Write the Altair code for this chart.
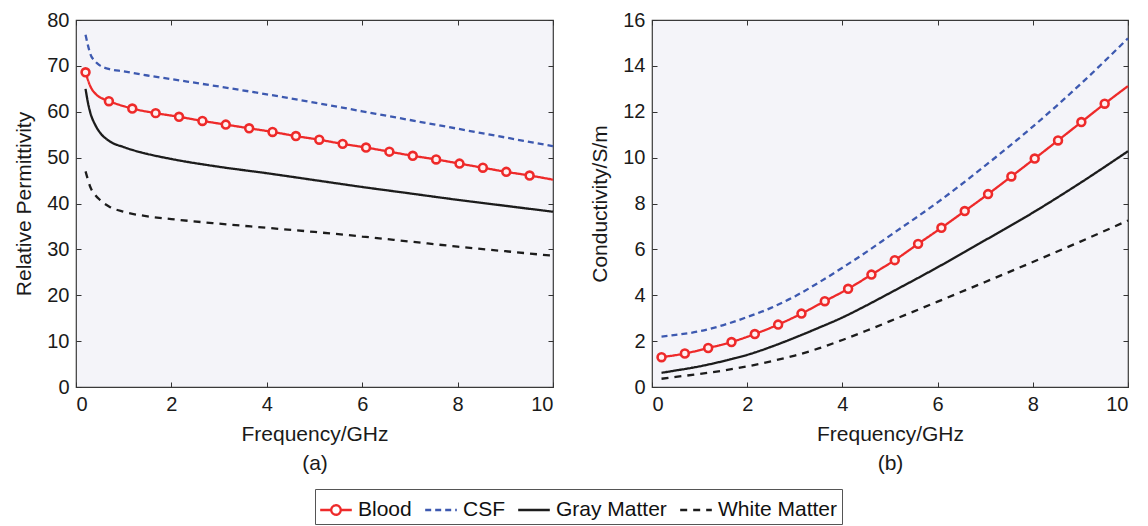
import altair as alt
import pandas as pd

FONT = "Liberation Sans"
TISSUES = ["Blood", "CSF", "Gray Matter", "White Matter"]
COLORS = ["#ee2a2a", "#3d59b0", "#1c1c1c", "#1c1c1c"]
DASHES = [[1, 0], [6, 4], [1, 0], [7, 6]]

# ---- (a) relative permittivity ----
f_perm = [0.2, 0.25, 0.3, 0.4, 0.5, 0.7, 1, 1.5, 2, 3, 4, 5, 6, 7, 8, 9, 10]
csf_perm = [76.8, 74.5, 72.6, 71.0, 70.1, 69.3, 68.8, 67.9, 67.1, 65.5, 63.8, 62.0, 60.1, 58.2, 56.3, 54.4, 52.5]
gray_perm = [65.0, 62.0, 59.8, 57.2, 55.5, 53.6, 52.3, 50.8, 49.7, 48.0, 46.6, 45.1, 43.6, 42.2, 40.8, 39.5, 38.2]
white_perm = [47.0, 45.2, 43.6, 41.9, 40.8, 39.3, 38.2, 37.2, 36.6, 35.6, 34.7, 33.8, 32.8, 31.7, 30.6, 29.6, 28.6]

f_blood = [0.2, 0.69, 1.18, 1.67, 2.16, 2.65, 3.14, 3.63, 4.12, 4.61, 5.10, 5.59, 6.08, 6.57,
           7.06, 7.55, 8.04, 8.53, 9.02, 9.51, 10.0]
blood_perm = [68.6, 62.3, 60.7, 59.7, 58.9, 58.0, 57.2, 56.4, 55.6, 54.7, 53.9, 53.0, 52.2, 51.3,
              50.4, 49.6, 48.7, 47.8, 46.9, 46.1, 45.2]
f_blood_extra = [0.29, 0.43, 0.57]
blood_perm_extra = [65.8, 63.7, 62.8]

# ---- (b) conductivity ----
f_cond = [0.2, 0.5, 1, 1.5, 2, 2.5, 3, 3.5, 4, 4.5, 5, 6, 7, 8, 9, 10]
csf_cond = [2.2, 2.27, 2.43, 2.7, 3.05, 3.45, 3.95, 4.55, 5.2, 5.88, 6.6, 8.05, 9.65, 11.35, 13.2, 15.2]
gray_cond = [0.62, 0.72, 0.9, 1.13, 1.4, 1.75, 2.15, 2.58, 3.03, 3.55, 4.1, 5.22, 6.4, 7.6, 8.9, 10.28]
white_cond = [0.36, 0.44, 0.57, 0.72, 0.9, 1.12, 1.37, 1.68, 2.05, 2.45, 2.87, 3.72, 4.58, 5.45, 6.34, 7.26]
blood_cond = [1.30, 1.46, 1.70, 1.96, 2.31, 2.72, 3.20, 3.74, 4.28, 4.90, 5.53, 6.24, 6.94, 7.67,
              8.41, 9.18, 9.96, 10.75, 11.55, 12.35, 13.12]

N_MARKERS = 20  # markers drawn on the first 20 blood samples


def long_df(pairs):
    rows = []
    for tissue, fs, vs in pairs:
        for f, v in zip(fs, vs):
            rows.append({"freq": f, "value": v, "tissue": tissue})
    df = pd.DataFrame(rows)
    return df.sort_values(["tissue", "freq"]).reset_index(drop=True)


perm_df = long_df([
    ("Blood", f_blood + f_blood_extra, blood_perm + blood_perm_extra),
    ("CSF", f_perm, csf_perm),
    ("Gray Matter", f_perm, gray_perm),
    ("White Matter", f_perm, white_perm),
])
perm_mk = pd.DataFrame({"freq": f_blood[:N_MARKERS], "value": blood_perm[:N_MARKERS]})

cond_df = long_df([
    ("Blood", f_blood, blood_cond),
    ("CSF", f_cond, csf_cond),
    ("Gray Matter", f_cond, gray_cond),
    ("White Matter", f_cond, white_cond),
])
cond_mk = pd.DataFrame({"freq": f_blood[:N_MARKERS], "value": blood_cond[:N_MARKERS]})

color_scale = alt.Scale(domain=TISSUES, range=COLORS)
dash_scale = alt.Scale(domain=TISSUES, range=DASHES)

X_TICKS = [0, 2, 4, 6, 8, 10]
TXT = dict(labelFont=FONT, titleFont=FONT, labelFontSize=20, titleFontSize=21,
           labelColor="#1a1a1a", titleColor="#1a1a1a", titleFontWeight="normal")

# legend symbol for Blood: a line with an open circle in the middle
BLOOD_SYMBOL = "M-1,0L-0.3,0M0.3,0L1,0M0.3,0A0.3,0.3,0,1,1,-0.3,0A0.3,0.3,0,1,1,0.3,0Z"


def tick_axis(orient, values):
    return alt.Axis(orient=orient, values=values, offset=-5, tickSize=5, ticks=True,
                    tickColor="#333333", tickWidth=1, labels=False, domain=False,
                    grid=False, title=None)


def panel(df, mk, ytitle, ymax, ystep, sub, width, show_legend):
    xs = alt.Scale(domain=[0, 10], nice=False, zero=False)
    ys = alt.Scale(domain=[0, ymax], nice=False, zero=True)
    y_ticks = list(range(0, ymax + 1, ystep))

    legend = alt.Legend(
        orient="none", legendX=239, legendY=469,
        direction="horizontal", title=None,
        symbolType=alt.ExprRef(
            expr="datum.value === 'Blood' ? '%s' : 'stroke'" % BLOOD_SYMBOL),
        symbolStrokeWidth=2.3, symbolSize=1000,
        labelFontSize=21, labelFont=FONT, labelColor="#111111",
        strokeColor="#555555", padding=4, columnPadding=8, labelOffset=5,
    ) if show_legend else None

    main = alt.Chart(df).mark_line(strokeWidth=2.3, interpolate="monotone").encode(
        x=alt.X("freq:Q", scale=xs,
                axis=alt.Axis(orient="bottom", values=X_TICKS, format="d", ticks=False,
                              domain=False, grid=False, labelPadding=7,
                              title=["Frequency/GHz", sub], titlePadding=9,
                              titleLineHeight=29, **TXT)),
        y=alt.Y("value:Q", scale=ys,
                axis=alt.Axis(orient="left", values=y_ticks, format="d", ticks=False,
                              domain=False, grid=False, labelPadding=7,
                              title=ytitle, titlePadding=12, **TXT)),
        color=alt.Color("tissue:N", scale=color_scale, legend=legend, sort=TISSUES),
        strokeDash=alt.StrokeDash("tissue:N", scale=dash_scale, legend=legend, sort=TISSUES),
        detail="tissue:N",
    )

    ticks_bl = alt.Chart(df).mark_line(opacity=0).encode(
        x=alt.X("freq:Q", scale=xs, axis=tick_axis("bottom", X_TICKS)),
        y=alt.Y("value:Q", scale=ys, axis=tick_axis("left", y_ticks)),
        detail="tissue:N",
    )
    ticks_tr = alt.Chart(df).mark_line(opacity=0).encode(
        x=alt.X("freq:Q", scale=xs, axis=tick_axis("top", X_TICKS)),
        y=alt.Y("value:Q", scale=ys, axis=tick_axis("right", y_ticks)),
        detail="tissue:N",
    )

    markers = alt.Chart(mk).mark_point(
        shape="circle", size=62, filled=False, stroke="#ee2a2a", strokeWidth=2.6,
        fill="#fff0f0", fillOpacity=1,
    ).encode(
        x=alt.X("freq:Q", scale=xs, axis=None),
        y=alt.Y("value:Q", scale=ys, axis=None),
    )

    return alt.layer(main, ticks_bl, ticks_tr, markers).resolve_axis(
        x="independent", y="independent"
    ).properties(width=width, height=367)


left = panel(perm_df, perm_mk, "Relative Permittivity", 80, 10, "(a)", 477, True)
right = panel(cond_df, cond_mk, "Conductivity/S/m", 16, 2, "(b)", 476, False)

chart = alt.hconcat(
    left, right, spacing=30,
    padding={"left": 5, "top": 1, "right": 0, "bottom": 0},
).resolve_scale(
    color="shared", strokeDash="shared"
).configure(
    background="white"
).configure_view(
    stroke="#3a3a3a", strokeWidth=1.2, fill="#f4f4f9"
)

chart.save("out.html", embed_options={"renderer": "svg", "actions": False})
